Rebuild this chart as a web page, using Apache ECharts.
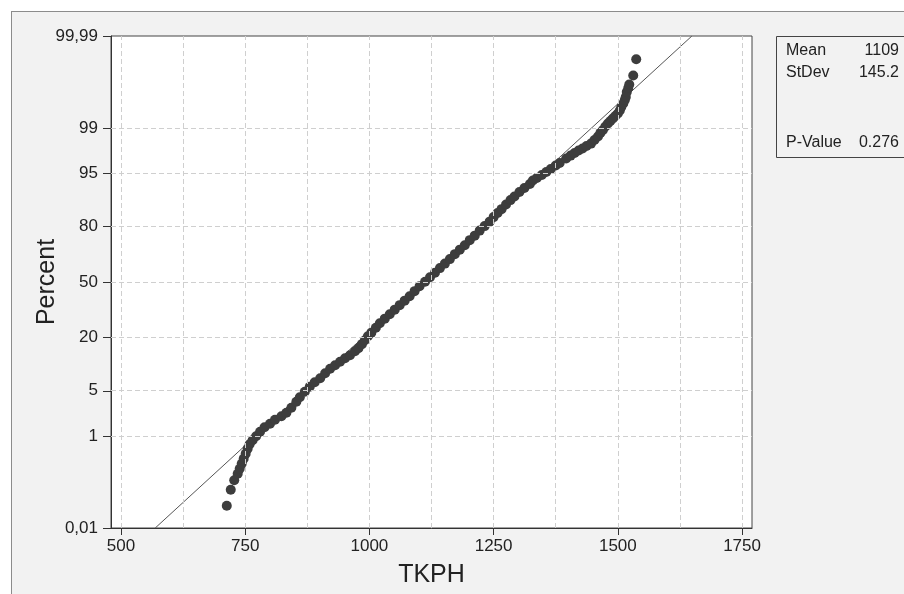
<!DOCTYPE html>
<html><head><meta charset="utf-8">
<script src="https://cdn.jsdelivr.net/npm/echarts@6/dist/echarts.min.js"></script>
<style>
html,body{margin:0;padding:0;background:#fff;}
body{width:904px;height:594px;overflow:hidden;position:relative;}
#frame{position:absolute;left:11px;top:11px;width:1000px;height:1000px;background:#f2f2f2;border:1px solid #8c8c8c;box-sizing:border-box;}
#chart{position:absolute;left:0;top:0;width:904px;height:594px;}
</style></head>
<body><div id="frame"></div><div id="chart"></div>
<script>
// Data
const tkph = [713,721,728,735,739,743,747,751,755,759,
  765,772,780,789,800,810,823,833,843,853,
  860,870,880,890,901,911,921,931,941,951,
  961,971,978,985,991,997,1004,1013,1021,1031,
  1041,1051,1061,1071,1081,1091,1101,1112,1122,1132,
  1142,1152,1162,1172,1182,1192,1202,1212,1222,1232,
  1242,1250,1258,1266,1275,1284,1292,1302,1312,1323,
  1329,1337,1347,1356,1365,1375,1383,1396,1405,1413,
  1421,1429,1437,1446,1453,1460,1465,1470,1475,1480,
  1485,1490,1495,1500,1504,1507,1511,1514,1516,1518,
  1521,1523,1531,1537];
const percent = [0.0358,0.0841,0.136,0.188,0.237,0.300,0.377,0.470,0.585,0.708,
  0.836,0.984,1.177,1.404,1.604,1.866,2.116,2.400,2.863,3.510,
  4.072,4.853,5.668,6.484,7.277,8.393,9.489,10.41,11.41,12.46,
  13.41,14.77,15.85,17.37,18.95,20.64,22.19,24.48,26.67,28.98,
  31.34,33.80,36.32,38.90,41.52,44.51,47.49,50.20,52.91,55.60,
  58.32,60.95,63.53,66.31,68.76,71.12,73.66,75.83,78.14,80.09,
  81.93,83.67,85.14,86.47,87.91,89.22,90.17,91.30,92.22,93.06,
  93.74,94.20,94.70,95.18,95.61,96.08,96.39,96.90,97.20,97.44,
  97.66,97.82,98.01,98.18,98.41,98.61,98.79,98.92,99.062,99.171,
  99.252,99.327,99.395,99.457,99.523,99.592,99.651,99.703,99.742,99.796,
  99.832,99.859,99.910,99.962];
const xTicks = [500,750,1000,1250,1500,1750];
const xGrid = [500,625,750,875,1000,1125,1250,1375,1500,1625,1750];
const yTickPercents = [0.01,1,5,20,50,80,95,99,99.99];
const yTickLabels = ['0,01','1','5','20','50','80','95','99','99,99'];
const yGridPercents = [1,5,20,50,80,95,99];
const statLabels = ['Mean','StDev','P-Value'];
const statValues = ['1109','145.2','0.276'];
const mean = 1109, stdev = 145.2;

// inverse standard normal (probability scale)
function probit(p){
  const a=[-3.969683028665376e+01,2.209460984245205e+02,-2.759285104469687e+02,1.383577518672690e+02,-3.066479806614716e+01,2.506628277459239e+00];
  const b=[-5.447609879822406e+01,1.615858368580409e+02,-1.556989798598866e+02,6.680131188771972e+01,-1.328068155288572e+01];
  const c=[-7.784894002430293e-03,-3.223964580411365e-01,-2.400758277161838e+00,-2.549732539343734e+00,4.374664141464968e+00,2.938163982698783e+00];
  const d=[7.784695709041462e-03,3.224671290700398e-01,2.445134137142996e+00,3.754408661907416e+00];
  const pl=0.02425, ph=1-pl; let q,r;
  if(p<pl){q=Math.sqrt(-2*Math.log(p));return (((((c[0]*q+c[1])*q+c[2])*q+c[3])*q+c[4])*q+c[5])/((((d[0]*q+d[1])*q+d[2])*q+d[3])*q+1);}
  if(p<=ph){q=p-0.5;r=q*q;return (((((a[0]*r+a[1])*r+a[2])*r+a[3])*r+a[4])*r+a[5])*q/(((((b[0]*r+b[1])*r+b[2])*r+b[3])*r+b[4])*r+1);}
  q=Math.sqrt(-2*Math.log(1-p));return -(((((c[0]*q+c[1])*q+c[2])*q+c[3])*q+c[4])*q+c[5])/((((d[0]*q+d[1])*q+d[2])*q+d[3])*q+1);
}
const yTickZ = yTickPercents.map(p => probit(p/100));
const zMin = yTickZ[0], zMax = yTickZ[yTickZ.length-1];
const FONT = '"Liberation Sans", Arial, sans-serif';
const TXT = '#222';

const gridLineData = xGrid.map(v => ({xAxis: v}))
  .concat(yGridPercents.map(p => ({yAxis: probit(p/100)})));

const chart = echarts.init(document.getElementById('chart'), null, {renderer:'canvas'});
chart.setOption({
  animation: false,
  backgroundColor: 'transparent',
  textStyle: {fontFamily: FONT},
  grid: {left:111, top:36, width:641, height:492, show:true, backgroundColor:'#ffffff', borderColor:'#444', borderWidth:1},
  xAxis: {
    type:'value', min:480, max:1770,
    axisLine:{show:true, onZero:false, lineStyle:{color:'#333', width:1}},
    axisTick:{show:true, length:7, customValues:xTicks, lineStyle:{color:'#333'}},
    axisLabel:{customValues:xTicks, fontSize:17, color:TXT, margin:10, fontFamily:FONT,
      formatter: v => String(Math.round(v))},
    splitLine:{show:false},
    name:'TKPH', nameLocation:'middle', nameGap:35,
    nameTextStyle:{fontSize:25, color:TXT, fontFamily:FONT}
  },
  yAxis: {
    type:'value', min:zMin, max:zMax,
    axisLine:{show:true, onZero:false, lineStyle:{color:'#333', width:1}},
    axisTick:{show:true, length:8, customValues:yTickZ, lineStyle:{color:'#333'}},
    axisLabel:{customValues:yTickZ, fontSize:17, color:TXT, margin:13, fontFamily:FONT,
      formatter: function(v){
        let best=0, bd=Infinity;
        yTickZ.forEach((z,i)=>{const dd=Math.abs(z-v); if(dd<bd){bd=dd;best=i;}});
        return yTickLabels[best];
      }},
    splitLine:{show:false}
  },
  series: [
    {
      type:'line', z:1, silent:true, showSymbol:false,
      data:[[mean + zMin*stdev, zMin],[mean + zMax*stdev, zMax]],
      lineStyle:{color:'#555', width:1},
      markLine:{silent:true, symbol:['none','none'], label:{show:false},
        lineStyle:{type:[5,3], color:'#cfcfcf', width:1}, data: gridLineData}
    },
    {
      type:'scatter', z:3, silent:true, symbolSize:10,
      itemStyle:{color:'#3d3d3d', opacity:1},
      data: tkph.map((x,i)=>[x, probit(percent[i]/100)])
    }
  ],
  graphic: [
    {type:'text', x:47, y:282, rotation:Math.PI/2,
      style:{text:'Percent', fill:TXT, font:'25px '+FONT, align:'center', verticalAlign:'middle'}},
    {type:'rect', shape:{x:776.5, y:36.5, width:200, height:121}, style:{fill:'#f2f2f2', stroke:'#444', lineWidth:1}},
    ...statLabels.map((s,i)=>({type:'text', x:786, y:[50.5,72.7,142.5][i],
      style:{text:s, fill:TXT, font:'16px '+FONT, align:'left', verticalAlign:'middle'}})),
    ...statValues.map((s,i)=>({type:'text', x:899, y:[50.5,72.7,142.5][i],
      style:{text:s, fill:TXT, font:'16px '+FONT, align:'right', verticalAlign:'middle'}}))
  ]
});
</script>
</body></html>
